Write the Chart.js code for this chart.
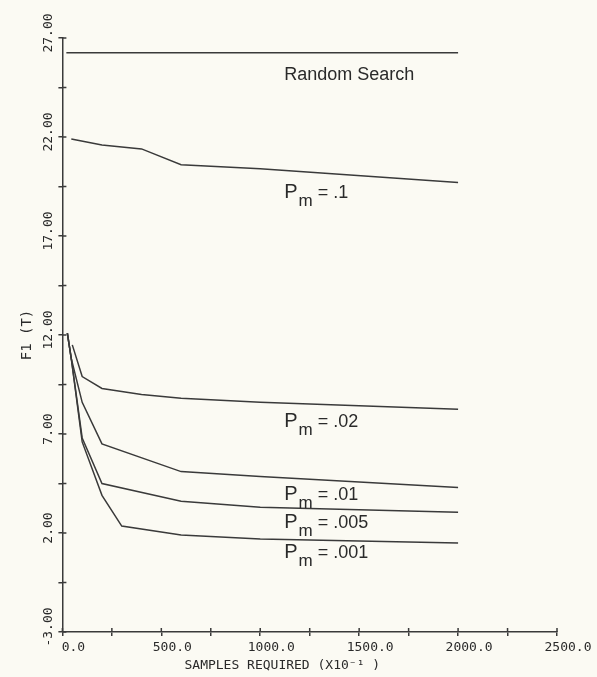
<!DOCTYPE html>
<html>

<head>
    <script src="https://cdn.jsdelivr.net/npm/chart.js@4.4.0/dist/chart.umd.min.js"></script>
</head>

<style>
    body {
        margin: 0;
        background-color: #fbfaf3;
    }

    #chart {
        display: block;
    }
</style>

<body>
    <canvas id="chart" width="597" height="677"></canvas>
</body>

<script>
    // axis ticks and their labels
    var xTicks = [0, 250, 500, 750, 1000, 1250, 1500, 1750, 2000, 2250, 2500];
    var xLabels = ['0.0', '', '500.0', '', '1000.0', '', '1500.0', '', '2000.0', '', '2500.0'];
    var yTicks = [-3, -0.5, 2, 4.5, 7, 9.5, 12, 14.5, 17, 19.5, 22, 24.5, 27];
    var yLabels = ['-3.00', '', '2.00', '', '7.00', '', '12.00', '', '17.00', '', '22.00', '', '27.00'];

    // series: samples (x10^-1) and F1(T)
    var randomX = [20, 2000];
    var randomY = [26.25, 26.25];
    var pm1X = [45, 200, 400, 600, 1000, 2000];
    var pm1Y = [21.9, 21.6, 21.4, 20.6, 20.4, 19.7];
    var pm02X = [50, 100, 200, 400, 600, 1000, 2000];
    var pm02Y = [11.5, 9.9, 9.3, 9.0, 8.8, 8.6, 8.25];
    var pm01X = [25, 45, 100, 200, 600, 1000, 2000];
    var pm01Y = [12.1, 10.8, 8.6, 6.5, 5.1, 4.85, 4.3];
    var pm005X = [25, 45, 100, 200, 600, 1000, 2000];
    var pm005Y = [12.1, 10.8, 6.8, 4.5, 3.6, 3.3, 3.05];
    var pm001X = [25, 45, 100, 200, 300, 600, 1000, 2000];
    var pm001Y = [12.1, 10.8, 6.6, 3.9, 2.35, 1.9, 1.7, 1.5];

    var seriesNames = ['Random Search', '.1', '.02', '.01', '.005', '.001'];

    function pairs(xs, ys) {
        var out = [];
        for (var i = 0; i < xs.length; i++) {
            out.push({ x: xs[i], y: ys[i] });
        }
        return out;
    }

    var lineColor = '#3a3a3a';
    var allX = [randomX, pm1X, pm02X, pm01X, pm005X, pm001X];
    var allY = [randomY, pm1Y, pm02Y, pm01Y, pm005Y, pm001Y];
    var datasets = [];
    for (var s = 0; s < allX.length; s++) {
        datasets.push({
            label: seriesNames[s],
            data: pairs(allX[s], allY[s]),
            borderColor: lineColor,
            borderWidth: 1.5,
            pointRadius: 0,
            tension: 0,
            fill: false
        });
    }

    // where the curve names sit, in data units
    var notes = [
        { text: 'Random Search', x: 1121, y: 24.88 },
        { sub: '.1', x: 1121, y: 18.9 },
        { sub: '.02', x: 1121, y: 7.35 },
        { sub: '.01', x: 1121, y: 3.67 },
        { sub: '.005', x: 1121, y: 2.25 },
        { sub: '.001', x: 1121, y: 0.74 }
    ];

    var crossTicks = {
        id: 'crossTicks',
        afterDatasetsDraw: function (chart) {
            var ctx = chart.ctx;
            var xs = chart.scales.x, ys = chart.scales.y;
            ctx.save();
            ctx.strokeStyle = lineColor;
            ctx.lineWidth = 1.5;
            ctx.beginPath();
            xs.ticks.forEach(function (t) {
                var px = xs.getPixelForValue(t.value);
                ctx.moveTo(px, ys.bottom);
                ctx.lineTo(px, ys.bottom - 4);
            });
            ys.ticks.forEach(function (t) {
                var py = ys.getPixelForValue(t.value);
                ctx.moveTo(xs.left, py);
                ctx.lineTo(xs.left + 4, py);
            });
            ctx.stroke();

            ctx.fillStyle = '#2a2a2a';
            ctx.textBaseline = 'alphabetic';
            ctx.textAlign = 'left';
            notes.forEach(function (n) {
                var px = xs.getPixelForValue(n.x);
                var py = ys.getPixelForValue(n.y);
                if (n.text) {
                    ctx.font = '18px "Liberation Sans", Arial, sans-serif';
                    ctx.fillText(n.text, px, py);
                    return;
                }
                ctx.font = '20px "Liberation Sans", Arial, sans-serif';
                ctx.fillText('P', px, py);
                var w = ctx.measureText('P').width;
                ctx.font = '17px "Liberation Sans", Arial, sans-serif';
                ctx.fillText('m', px + w + 1, py + 8);
                w += ctx.measureText('m').width + 1;
                ctx.font = '18px "Liberation Sans", Arial, sans-serif';
                ctx.fillText(' = ' + n.sub, px + w, py);
            });
            ctx.restore();
        }
    };

    var monoFont = '"DejaVu Sans Mono", "Liberation Mono", monospace';

    var myChart = new Chart(document.getElementById('chart').getContext('2d'), {
        type: 'line',
        data: { datasets: datasets },
        plugins: [crossTicks],
        options: {
            responsive: false,
            animation: false,
            devicePixelRatio: 1,
            layout: {
                padding: { top: 38, right: 40, bottom: 3, left: 19 }
            },
            plugins: {
                legend: { display: false },
                tooltip: { enabled: false }
            },
            scales: {
                x: {
                    type: 'linear',
                    min: 0,
                    max: 2500,
                    afterBuildTicks: function (scale) {
                        scale.ticks = xTicks.map(function (v) { return { value: v }; });
                    },
                    ticks: {
                        autoSkip: false,
                        maxRotation: 0,
                        color: '#2a2a2a',
                        font: { family: monoFont, size: 13, lineHeight: 1 },
                        padding: 5,
                        labelOffset: 11,
                        callback: function (value, index) { return xLabels[index]; }
                    },
                    grid: {
                        drawOnChartArea: false,
                        drawTicks: true,
                        tickLength: 4,
                        color: lineColor,
                        lineWidth: 1.5
                    },
                    border: { display: true, color: lineColor, width: 1.5 },
                    title: {
                        display: true,
                        text: 'SAMPLES REQUIRED (X10\u207B\u00B9 )       ',
                        color: '#2a2a2a',
                        font: { family: monoFont, size: 13, lineHeight: 1 },
                        padding: { top: 0, bottom: 2 }
                    }
                },
                y: {
                    type: 'linear',
                    min: -3,
                    max: 27,
                    afterBuildTicks: function (scale) {
                        scale.ticks = yTicks.map(function (v) { return { value: v }; });
                    },
                    ticks: {
                        autoSkip: false,
                        minRotation: 90,
                        maxRotation: 90,
                        crossAlign: 'center',
                        color: '#2a2a2a',
                        font: { family: monoFont, size: 13 },
                        padding: -10,
                        labelOffset: -5,
                        callback: function (value, index) { return yLabels[index]; }
                    },
                    grid: {
                        drawOnChartArea: false,
                        drawTicks: true,
                        tickLength: 4,
                        color: lineColor,
                        lineWidth: 1.5
                    },
                    border: { display: true, color: lineColor, width: 1.5 },
                    title: {
                        display: true,
                        text: 'F1 (T)',
                        color: '#2a2a2a',
                        font: { family: monoFont, size: 14 },
                        padding: { top: 0, bottom: 27 }
                    }
                }
            }
        }
    });
</script>

</html>
